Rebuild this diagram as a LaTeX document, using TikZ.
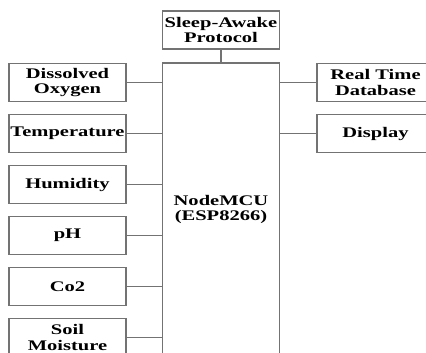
\documentclass[tikz,border=0pt]{standalone}
\usepackage{fontspec}
\setmainfont{Liberation Serif}
\newfontfamily\boxfont[FakeStretch=1.4]{Liberation Serif}

\begin{document}
\begin{tikzpicture}[x=0.75pt,y=-0.75pt,
  blk/.style={draw=black!55, line width=0.8pt, minimum width=87.75pt,
    minimum height=28.5pt, inner sep=0pt, align=center,
    font=\boxfont\bfseries\fontsize{11}{11.5}\selectfont},
  wire/.style={draw=black!55, line width=0.8pt}]
\useasboundingbox (0,0) rectangle (426,353);
\clip (0,0) rectangle (426,353);
% controller and protocol
\node[blk, minimum height=219.75pt] (mcu) at (221,209.5) {NodeMCU\\(ESP8266)};
\node[blk] (sleep) at (221,30) {Sleep-Awake\\Protocol};
% sensors
\node[blk] (oxy) at (67.5,82.5) {Dissolved\\Oxygen};
\node[blk] (temp) at (67.5,133.5) {Temperature};
\node[blk] (hum) at (67.5,184.5) {Humidity};
\node[blk] (ph) at (67.5,235.5) {pH};
\node[blk] (co2) at (67.5,286.5) {Co2};
\node[blk] (soil) at (67.5,337.5) {Soil\\Moisture};
% outputs
\node[blk] (rtdb) at (375.5,82.5) {Real Time\\Database};
\node[blk] (disp) at (375.5,133.5) {Display};
% links
\draw[wire] (sleep.south) -- (sleep.south |- mcu.north);
\foreach \s in {oxy,temp,hum,ph,co2,soil}
  \draw[wire] (\s.east) -- (\s.east -| mcu.west);
\foreach \o in {rtdb,disp}
  \draw[wire] (\o.west) -- (\o.west -| mcu.east);
\end{tikzpicture}
\end{document}
